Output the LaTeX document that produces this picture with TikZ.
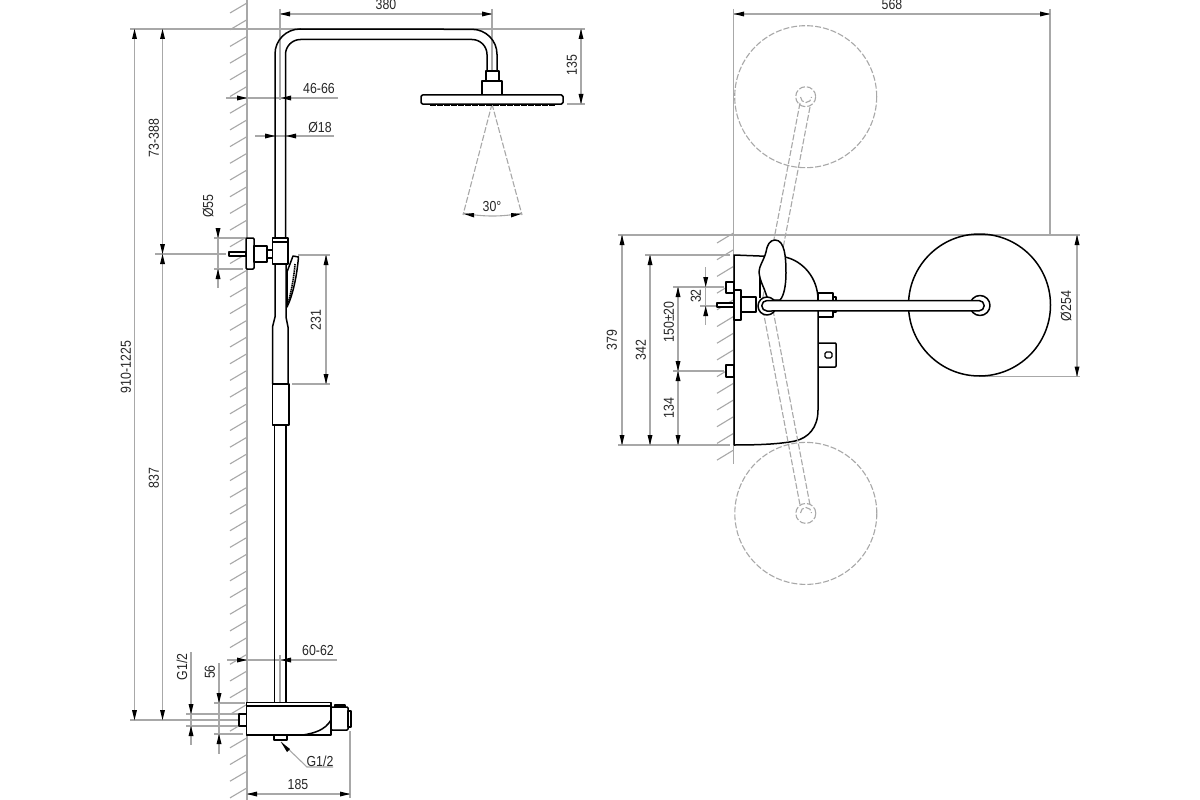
\documentclass[tikz,border=0pt]{standalone}
\usepackage{fontspec}
\setmainfont[FakeStretch=0.85]{Liberation Sans}
\newcommand{\tipR}[2]{\fill[black] (#1,#2)--(#1-10,#2-2.5)--(#1-10,#2+2.5)--cycle;}
\newcommand{\tipL}[2]{\fill[black] (#1,#2)--(#1+10,#2-2.5)--(#1+10,#2+2.5)--cycle;}
\newcommand{\tipD}[2]{\fill[black] (#1,#2)--(#1-2.5,#2-10)--(#1+2.5,#2-10)--cycle;}
\newcommand{\tipU}[2]{\fill[black] (#1,#2)--(#1-2.5,#2+10)--(#1+2.5,#2+10)--cycle;}
\tikzset{
  dimline/.style={draw=dimgrey,line width=1.1pt},
  phantomline/.style={draw=phgrey,line width=1.1pt,dash pattern=on 6pt off 2pt},
  solidline/.style={draw=black,line width=1.5pt,line join=round},
  solidfill/.style={solidline,fill=white},
  lbl/.style={font=\fontsize{14.5}{15}\selectfont,text=black!85,inner sep=0pt},
  vlbl/.style={lbl,rotate=90}
}
\definecolor{dimgrey}{HTML}{A8A8A8}
\definecolor{phgrey}{HTML}{A8A8A8}
\begin{document}
\begin{tikzpicture}[x=1pt,y=-1pt]
\useasboundingbox (0,0) rectangle (1200,800);
\fill[white] (0,0) rectangle (1200,800);
% ---- walls
\draw[dimline] (247,0)--(247,800);
\foreach \k in {0,...,47}{\draw[dimline] (230,13+16.7*\k)--(247,3+16.7*\k);}
\draw[dimline] (733.5,233)--(733.5,464);
\foreach \k in {0,...,13}{\draw[dimline] (717,243+16.7*\k)--(733.5,233+16.7*\k);}
% ---- left view extension lines
\draw[dimline] (130,29)--(585,29);
\draw[dimline] (280,9)--(280,100);
\draw[dimline] (492,9)--(492,71);
\draw[dimline] (567,104)--(585,104);
\draw[dimline] (280,14)--(492,14);
\draw[dimline] (581,29)--(581,104);
\draw[dimline] (226,98)--(338,98);
\draw[dimline] (255,136)--(334,136);
\draw[dimline] (155,254)--(226,254);
\draw[dimline] (214,238)--(245,238);
\draw[dimline] (214,269)--(243,269);
\draw[dimline] (218,228)--(218,288);
\draw[dimline] (298,255)--(330,255);
\draw[dimline] (292,384)--(330,384);
\draw[dimline] (326,255)--(326,384);
\draw[dimline] (134.5,29)--(134.5,720);
\draw[dimline] (162.5,29)--(162.5,720);
\draw[dimline] (130,720)--(238,720);
\draw[dimline] (186,714)--(238,714);
\draw[dimline] (186,726)--(238,726);
\draw[dimline] (191,652)--(191,745);
\draw[dimline] (214,703)--(245,703);
\draw[dimline] (214,734)--(243,734);
\draw[dimline] (219,663)--(219,754);
\draw[dimline] (227,660)--(337,660);
\draw[dimline] (280,655)--(280,703);
\draw[dimline] (350,731)--(350,798);
\draw[dimline] (246,794)--(350,794);
\draw[dimline] (281,742)--(307,767)--(333,767);
% cone
\draw[phantomline] (492,104)--(463,215);
\draw[phantomline] (492,104)--(522,215);
\draw[dimline] (463,213) .. controls (482,217) and (503,217) .. (522,213);
% tips left view
\tipL{280}{14}\tipR{492}{14}
\tipU{581}{29}\tipD{581}{104}
\tipR{247}{98}\tipL{281}{98}
\tipR{275}{136}\tipL{286}{136}
\tipD{218}{238}\tipU{218}{269}
\tipU{326}{255}\tipD{326}{384}
\tipU{134.5}{29}\tipD{134.5}{720}
\tipU{162.5}{29}\tipD{162.5}{254}\tipU{162.5}{254}\tipD{162.5}{720}
\tipD{191}{714}\tipU{191}{726}
\tipD{219}{703}\tipU{219}{734}
\tipR{247}{660}\tipL{281}{660}
\tipL{247}{794}\tipR{350}{794}
\fill[black] (281,742)--(290,749)--(287,752)--cycle;
\fill[black] (464,214)--(474,213)--(474,217.5)--cycle;
\fill[black] (521,214)--(511,213)--(511,217.5)--cycle;
% ---- shower column
\draw[solidline] (275,238)--(275,54) arc[start angle=180,end angle=270,radius=25]--(472,29.3) arc[start angle=270,end angle=360,radius=25]--(497,71);
\draw[solidline] (285.5,238)--(285.5,54.5) arc[start angle=180,end angle=270,radius=15]--(472,39.5) arc[start angle=270,end angle=360,radius=15]--(487,71);
\draw[solidfill] (486,71) rectangle (499,81);
\draw[solidfill] (482,81) rectangle (502,95);
\draw[draw=black,line width=1.8pt,dash pattern=on 6pt off 1pt] (430,105)--(555,105);
\draw[solidfill,rounded corners=1.5pt] (421,95) rectangle (563,104);
% slider
\draw[solidfill] (272.7,238) rectangle (288,264);
\draw[solidline] (272.7,242)--(288,242);
\draw[solidfill,rounded corners=1pt] (246,238) rectangle (254,269);
\draw[solidfill] (254,246) rectangle (267,262);
\draw[solidline] (267,250)--(272.7,250);
\draw[solidline] (267,258)--(272.7,258);
\draw[solidfill] (229,252) rectangle (246,256);
% lower column
\draw[solidline] (275,264)--(275,317)--(272.5,327)--(272.5,384);
\draw[solidline] (286,264)--(286,317)--(288,327)--(288,384);
\draw[solidline] (272.5,384)--(289,384);
\draw[solidfill] (272.5,384) rectangle (289,425);
\draw[solidline] (274.5,425)--(274.5,703);
\draw[solidline] (286,425)--(286,703);
% hand shower
\draw[solidfill] (293,256)--(298.5,257) .. controls (297,275) and (293,295) .. (287,307)--(287,272)--cycle;
\draw[draw=black,line width=1.6pt,dash pattern=on 1.5pt off .6pt] (295,264) .. controls (294,278) and (291,292) .. (288.5,302);
% thermostat
\draw[solidfill] (246.3,702.7)--(331,702.7)--(331,735)--(246.3,735)--cycle;
\draw[solidline] (246.3,706)--(331,706);
\draw[solidline] (331,720) .. controls (325,730) and (315,733) .. (303,735);
\draw[solidfill] (335,705) rectangle (345,707);
\draw[solidfill,rounded corners=1pt] (331,707) rectangle (348,730);
\draw[solidfill] (348,711) rectangle (351,727);
\draw[solidfill] (239,714) rectangle (246.3,726);
\draw[solidfill] (274,735) rectangle (287,740);
% ---- right view extension lines
\draw[dimline] (733.5,9)--(733.5,235);
\draw[dimline] (1050,9)--(1050,235);
\draw[dimline] (733.5,14)--(1050,14);
\draw[dimline] (618,235)--(1080,235);
\draw[dimline] (618,445)--(730,445);
\draw[dimline] (645,255)--(730,255);
\draw[dimline] (622,235)--(622,445);
\draw[dimline] (650,255)--(650,445);
\draw[dimline] (678,287)--(678,445);
\draw[dimline] (673,287)--(724,287);
\draw[dimline] (673,371)--(724,371);
\draw[dimline] (705.7,267)--(705.7,325);
\draw[dimline] (700,306)--(716,306);
\draw[dimline] (980,376.5)--(1080,376.5);
\draw[dimline] (1077,235)--(1077,376.5);
\tipL{734}{14}\tipR{1050}{14}
\tipU{622}{235}\tipD{622}{445}
\tipU{650}{255}\tipD{650}{445}
\tipU{678}{287}\tipD{678}{371}\tipU{678}{371}\tipD{678}{445}
\tipD{705.7}{287}\tipU{705.7}{306}
\tipU{1077}{235}\tipD{1077}{376.5}
% ---- body
\draw[solidfill] (818,293) rectangle (833,317);
\draw[solidfill] (833,297) rectangle (836,312);
\draw[solidfill,rounded corners=.8pt] (818,343) rectangle (836,367);
\draw[draw=black,line width=1.2pt,rounded corners=1.5pt] (825,352) rectangle (832,358);
\draw[solidfill] (726,282) rectangle (734,293);
\draw[solidfill] (726,365) rectangle (734,377);
\draw[solidfill] (734,255)--(785,257) .. controls (803,261) and (818,278) .. (818,300)--(818,410) .. controls (818,428) and (808,438) .. (795,441) .. controls (780,444) and (760,445) .. (734,445)--cycle;
% phantom positions
\draw[phantomline] (805.7,96.7) circle[radius=71];
\draw[phantomline] (805.7,96.7) circle[radius=10];
\draw[phantomline] (800.5,97) arc[start angle=180,end angle=0,radius=5.5];
\draw[phantomline] (800,103)--(762,302);
\draw[phantomline] (810,107)--(772,306);
\draw[phantomline] (805.8,513.4) circle[radius=71];
\draw[phantomline] (805.8,513.4) circle[radius=10];
\draw[phantomline] (800.5,513) arc[start angle=180,end angle=360,radius=5.5];
\draw[phantomline] (763,310)--(800,505);
\draw[phantomline] (773,310)--(810,505);
% leaf lever and stem
\draw[solidline] (760,272)--(760,298);
\draw[solidline] (760,278)--(765,283);
\draw[solidfill] (775,240) .. controls (770,240) and (767,245) .. (766,252) .. controls (764,260) and (759,266) .. (759,272) .. controls (760,282) and (764,287) .. (766,294) .. controls (767,298) and (769,300) .. (771,300)--(780,300) .. controls (784,296) and (786,285) .. (786,273) .. controls (786,258) and (785,240) .. (775,240)--cycle;
% wall mount
\draw[solidfill] (734,290) rectangle (741,320);
\draw[solidfill] (741,297) rectangle (756,312);
\draw[solidfill] (717,303) rectangle (734,307);
% head circle and arm
\draw[solidline] (979.5,305) circle[radius=71];
\draw[solidfill] (980,305.5) circle[radius=10];
\draw[solidfill] (767,306) circle[radius=9];
\draw[solidfill] (767,300.5)--(979,300.5) arc[start angle=-90,end angle=90,radius=5.2]--(767,311) arc[start angle=90,end angle=270,radius=5.25]--cycle;
% ---- labels
\node[lbl] (t380) at (386,5) {380};
\node[vlbl] (t135) at (572,65) {135};
\node[lbl] (t4666) at (319,89) {46-66};
\node[lbl] (t18) at (320,127) {Ø18};
\node[lbl] (t30) at (492,207) {30°};
\node[vlbl] (t55) at (208,206) {Ø55};
\node[vlbl] (t231) at (316,320) {231};
\node[vlbl] (t9101225) at (126,367) {910-1225};
\node[vlbl] (t73388) at (154,138) {73-388};
\node[vlbl] (t837) at (154,478) {837};
\node[lbl] (t6062) at (318,651) {60-62};
\node[vlbl] (tg1) at (182,667) {G1/2};
\node[vlbl] (t56) at (210,672) {56};
\node[lbl] (tg2) at (320,761) {G1/2};
\node[lbl] (t185) at (298,785) {185};
\node[lbl] (t568) at (892,5) {568};
\node[vlbl] (t379) at (612,340) {379};
\node[vlbl] (t342) at (641,350) {342};
\node[vlbl] (t150) at (669,322) {150±20};
\node[vlbl] (t134) at (669,408) {134};
\node[vlbl] (t32) at (696,296) {32};
\node[vlbl] (t254) at (1066,306) {Ø254};
\end{tikzpicture}
\end{document}
